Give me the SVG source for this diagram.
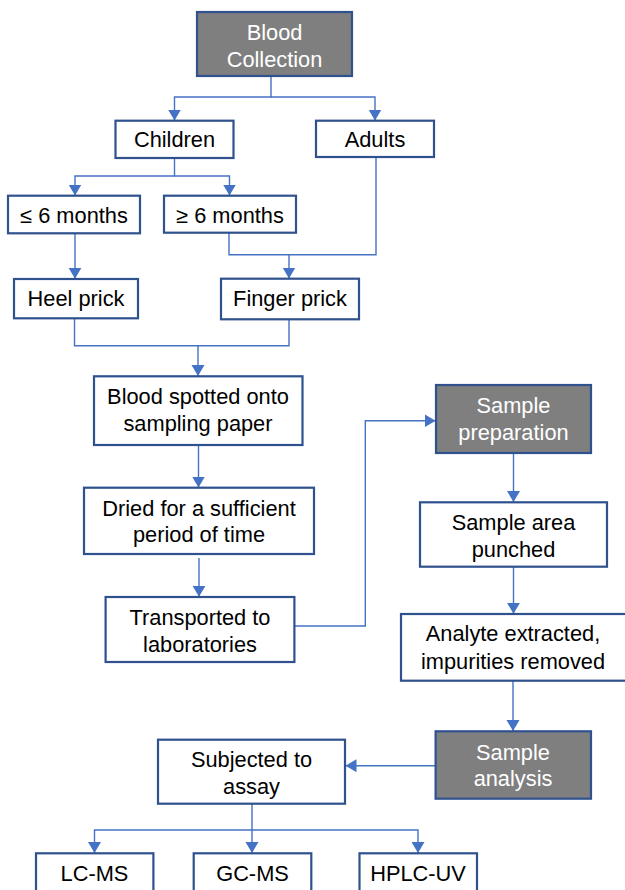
<svg xmlns="http://www.w3.org/2000/svg" width="625" height="890" viewBox="0 0 625 890">
<style>
.box{fill:#ffffff;stroke:#2f528f;stroke-width:2.2}
.dark{fill:#7f7f7f;stroke:#2f528f;stroke-width:2.2}
.t{font-family:"Liberation Sans",Arial,sans-serif;font-size:21.8px;fill:#000;text-anchor:middle}
.w{fill:#ffffff}
.c{fill:none;stroke:#4472c4;stroke-width:1.4}
.a{marker-end:url(#arr)}
</style>
<defs>
<marker id="arr" markerUnits="userSpaceOnUse" markerWidth="12" markerHeight="14" refX="11" refY="6.5" orient="auto">
<path d="M0,0 L11,6.5 L0,13 z" fill="#4472c4"/>
</marker>
</defs>
<rect width="625" height="890" fill="#ffffff"/>
<g id="connectors">
<path class="c a" d="M271,76 V97 H174.5 V120.5"/>
<path class="c a" d="M271,97 H375 V120.5"/>
<path class="c a" d="M174.5,158 V176 H75 V195.5"/>
<path class="c a" d="M174.5,176 H229.5 V195.5"/>
<path class="c a" d="M75,233.3 V278.7"/>
<path class="c" d="M376,157 V254.7 H229 V232.7"/>
<path class="c a" d="M289,254.7 V278.5"/>
<path class="c" d="M74.5,318.3 V345.7 H289 V319.3"/>
<path class="c a" d="M198,345.7 V376"/>
<path class="c a" d="M198.5,445 V487.5"/>
<path class="c a" d="M199,558 V596.8"/>
<path class="c a" d="M294.4,626 H365.3 V420.7 H435.5"/>
<path class="c a" d="M513.5,453 V502"/>
<path class="c a" d="M513.5,566.7 V613.8"/>
<path class="c a" d="M513,680.7 V731"/>
<path class="c a" d="M435.6,765.7 H345.5"/>
<path class="c a" d="M252,803.7 V830 H94.5 V853"/>
<path class="c a" d="M252,830 V853"/>
<path class="c a" d="M252,830 H418 V853"/>
</g>
<g id="blood-collection">
<rect class="dark" x="197" y="12" width="155" height="64"/>
<text class="t w" x="274.5" y="39.6">Blood</text>
<text class="t w" x="274.5" y="66.5">Collection</text>
</g>
<g id="children">
<rect class="box" x="115.5" y="120.7" width="118" height="37.3"/>
<text class="t" x="174.5" y="147.2">Children</text>
</g>
<g id="adults">
<rect class="box" x="316" y="120.7" width="118" height="36.3"/>
<text class="t" x="375" y="147">Adults</text>
</g>
<g id="le6">
<rect class="box" x="8" y="195.7" width="132" height="37.6"/>
<text class="t" x="74" y="222.9">≤ 6 months</text>
</g>
<g id="ge6">
<rect class="box" x="164" y="195.7" width="132" height="37"/>
<text class="t" x="230" y="222.9">≥ 6 months</text>
</g>
<g id="heel-prick">
<rect class="box" x="14" y="279" width="124" height="39.3"/>
<text class="t" x="76" y="306.2">Heel prick</text>
</g>
<g id="finger-prick">
<rect class="box" x="221" y="278.7" width="138" height="40.6"/>
<text class="t" x="290" y="306.2">Finger prick</text>
</g>
<g id="blood-spotted">
<rect class="box" x="94" y="376.3" width="208.5" height="68.7"/>
<text class="t" x="198" y="403.9">Blood spotted onto</text>
<text class="t" x="198" y="431.2">sampling paper</text>
</g>
<g id="dried">
<rect class="box" x="84" y="487.7" width="230" height="66.3"/>
<text class="t" x="199" y="515.6">Dried for a sufficient</text>
<text class="t" x="199" y="542.2">period of time</text>
</g>
<g id="transported">
<rect class="box" x="105.6" y="597" width="188.8" height="65"/>
<text class="t" x="200" y="624.9">Transported to</text>
<text class="t" x="200" y="651.9">laboratories</text>
</g>
<g id="sample-preparation">
<rect class="dark" x="436" y="385" width="155" height="68"/>
<text class="t w" x="513.5" y="412.9">Sample</text>
<text class="t w" x="513.5" y="439.9">preparation</text>
</g>
<g id="sample-punched">
<rect class="box" x="420" y="502.3" width="187" height="64.4"/>
<text class="t" x="513.5" y="529.9">Sample area</text>
<text class="t" x="513.5" y="556.6">punched</text>
</g>
<g id="analyte">
<rect class="box" x="401" y="614" width="240" height="66.7"/>
<text class="t" x="513" y="641.2">Analyte extracted,</text>
<text class="t" x="513" y="668.6">impurities removed</text>
</g>
<g id="sample-analysis">
<rect class="dark" x="435.6" y="731.3" width="155.4" height="67.4"/>
<text class="t w" x="513" y="759.6">Sample</text>
<text class="t w" x="513" y="786.2">analysis</text>
</g>
<g id="subjected">
<rect class="box" x="158" y="739.7" width="187" height="64"/>
<text class="t" x="251.5" y="766.9">Subjected to</text>
<text class="t" x="251.5" y="793.9">assay</text>
</g>
<g id="lc-ms">
<rect class="box" x="36" y="853.3" width="117.4" height="50"/>
<text class="t" x="94.5" y="880.6">LC-MS</text>
</g>
<g id="gc-ms">
<rect class="box" x="193.7" y="853.3" width="117.6" height="50"/>
<text class="t" x="252.5" y="880.6">GC-MS</text>
</g>
<g id="hplc-uv">
<rect class="box" x="359.5" y="853.3" width="117.5" height="50"/>
<text class="t" x="418" y="880.6">HPLC-UV</text>
</g>
</svg>
